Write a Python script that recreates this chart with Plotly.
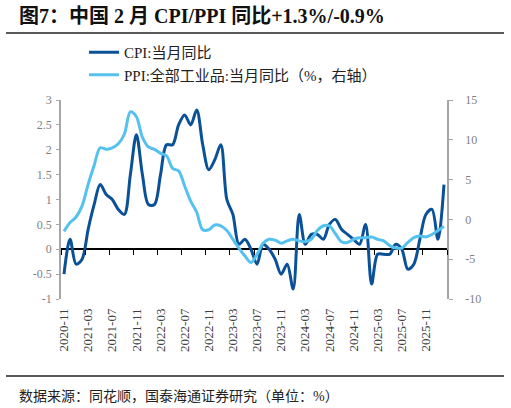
import plotly.graph_objects as go

# ---------------- data ----------------
months = []
_y, _m = 2020, 11
while (_y, _m) <= (2026, 2):
    months.append(f"{_y}-{_m:02d}")
    _m += 1
    if _m > 12:
        _y, _m = _y + 1, 1

cpi = [-0.5, 0.2, -0.3, -0.2, 0.4, 0.9, 1.3, 1.1, 1.0, 0.8, 0.7, 1.5,
       2.3, 1.5, 0.9, 0.9, 1.5, 2.1, 2.1, 2.5, 2.7, 2.5, 2.8, 2.1,
       1.6, 1.8, 2.1, 1.0, 0.7, 0.1, 0.2, 0.0, -0.3, 0.1, 0.0, -0.2,
       -0.5, -0.3, -0.8, 0.7, 0.1, 0.3, 0.3, 0.2, 0.5, 0.6, 0.4, 0.3,
       0.2, 0.1, 0.5, -0.7, -0.1, -0.1, -0.1, 0.1, 0.0, -0.4, -0.3, 0.2,
       0.7, 0.8, 0.2, 1.3]

ppi = [-1.5, -0.4, 0.3, 1.7, 4.4, 6.8, 9.0, 8.8, 9.0, 9.5, 10.7, 13.5,
       12.9, 10.3, 9.1, 8.8, 8.3, 8.0, 6.4, 6.1, 4.2, 2.3, 0.9, -1.3,
       -1.3, -0.7, -0.8, -1.4, -2.5, -3.6, -4.6, -5.4, -4.4, -3.0, -2.5, -2.6,
       -3.0, -2.7, -2.5, -2.7, -2.8, -2.5, -1.4, -0.8, -0.8, -1.8, -2.8, -2.9,
       -2.5, -2.3, -2.3, -2.2, -2.5, -2.7, -3.3, -3.6, -3.6, -2.9, -2.3, -2.1,
       -2.2, -1.9, -1.4, -0.9]

x_tick_labels = ["2020-11", "2021-03", "2021-07", "2021-11", "2022-03", "2022-07",
                 "2022-11", "2023-03", "2023-07", "2023-11", "2024-03", "2024-07",
                 "2024-11", "2025-03", "2025-07", "2025-11"]
left_ticks = [-1, -0.5, 0, 0.5, 1, 1.5, 2, 2.5, 3]
left_tick_text = ["-1", "-0.5", "0", "0.5", "1", "1.5", "2", "2.5", "3"]
right_ticks = [-10, -5, 0, 5, 10, 15]
right_tick_text = ["-10", "-5", "0", "5", "10", "15"]

title_text = "图7：中国 2 月 CPI/PPI 同比+1.3%/-0.9%"
cpi_name = "CPI:当月同比"
ppi_name = "PPI:全部工业品:当月同比（%，右轴）"
source_text = "数据来源：同花顺，国泰海通证券研究（单位：%）"

# ---------------- layout geometry ----------------
W, H = 511, 408
ML, MR, MT, MB = 61, 64, 100, 109
PW, PH = W - ML - MR, H - MT - MB


def px_x(p):
    return (p - ML) / PW


def px_y(p):
    return (H - MB - p) / PH


xi = list(range(len(months)))
label_pos = [months.index(t) for t in x_tick_labels]
boundary_pos = [i - 0.5 for i in range(0, len(months) + 1, 4)]
xr = [-0.5, len(months) - 0.5]

CPI_COLOR = "#0B5197"
PPI_COLOR = "#55C1EE"
SERIF = "Liberation Serif, Times New Roman, Noto Sans CJK SC, serif"

fig = go.Figure()
fig.add_trace(go.Scatter(
    x=xi, y=cpi, name=cpi_name, mode="lines",
    line=dict(color=CPI_COLOR, width=3, shape="spline", smoothing=0.9),
    xaxis="x", yaxis="y", hoverinfo="skip"))
fig.add_trace(go.Scatter(
    x=xi, y=ppi, name=ppi_name, mode="lines",
    line=dict(color=PPI_COLOR, width=3, shape="spline", smoothing=0.9),
    xaxis="x2", yaxis="y2", hoverinfo="skip"))

fig.update_layout(
    width=W, height=H,
    margin=dict(l=ML, r=MR, t=MT, b=MB, pad=0),
    paper_bgcolor="white", plot_bgcolor="white",
    font=dict(family=SERIF, size=12, color="#333333"),
    showlegend=True,
    legend=dict(
        x=px_x(84), y=px_y(36), xanchor="left", yanchor="top",
        orientation="v", bgcolor="rgba(0,0,0,0)", borderwidth=0,
        font=dict(family=SERIF, size=15, color="#222222"),
        tracegroupgap=0, itemwidth=30,
    ),
    xaxis=dict(
        range=xr, tickmode="array", tickvals=label_pos, ticktext=x_tick_labels,
        tickangle=-90, ticks="", showline=False, showgrid=False, zeroline=False,
        tickfont=dict(family=SERIF, size=13, color="#404040"),
        ticklabelstandoff=6,
    ),
    xaxis2=dict(
        range=xr, overlaying="x", anchor="free", position=0.25, side="bottom",
        tickmode="array", tickvals=boundary_pos, ticks="outside", ticklen=5,
        tickwidth=1.2, tickcolor="#000000", showticklabels=False,
        showline=False, showgrid=False, zeroline=False,
    ),
    yaxis=dict(
        range=[-1, 3], tickmode="array", tickvals=left_ticks, ticktext=left_tick_text,
        showgrid=False, zeroline=True, zerolinecolor="#000000", zerolinewidth=1.5,
        showline=True, linecolor="#A6A6A6", linewidth=1.5,
        ticks="outside", ticklen=3, tickcolor="#A6A6A6", tickwidth=1.2,
        tickfont=dict(family=SERIF, size=12, color="#7F7F7F"),
        ticklabelstandoff=2,
    ),
    yaxis2=dict(
        range=[-10, 15], overlaying="y", side="right", anchor="x2",
        tickmode="array", tickvals=right_ticks, ticktext=right_tick_text,
        showgrid=False, zeroline=False,
        showline=True, linecolor="#A6A6A6", linewidth=1.5,
        ticks="outside", ticklen=4, tickcolor="#A6A6A6", tickwidth=1.2,
        tickfont=dict(family=SERIF, size=12, color="#7F7F7F"),
        ticklabelstandoff=10,
    ),
)

# title, rules and source
fig.add_annotation(
    x=px_x(17), y=px_y(16), xref="paper", yref="paper", xanchor="left", yanchor="middle",
    text="<b>" + title_text + "</b>", showarrow=False,
    font=dict(family=SERIF, size=20, color="#111111"))
fig.add_annotation(
    x=px_x(17), y=px_y(396), xref="paper", yref="paper", xanchor="left", yanchor="middle",
    text=source_text, showarrow=False,
    font=dict(family=SERIF, size=14, color="#222222"))
for yy in (33, 376):
    fig.add_shape(type="line", xref="paper", yref="paper",
                  x0=px_x(6), x1=px_x(504), y0=px_y(yy), y1=px_y(yy),
                  line=dict(color="#222222", width=1.5))

fig.write_html(
    "out.html",
    config={"displayModeBar": False},
    post_script="document.body.style.margin='0';document.body.style.overflow='hidden';",
)
